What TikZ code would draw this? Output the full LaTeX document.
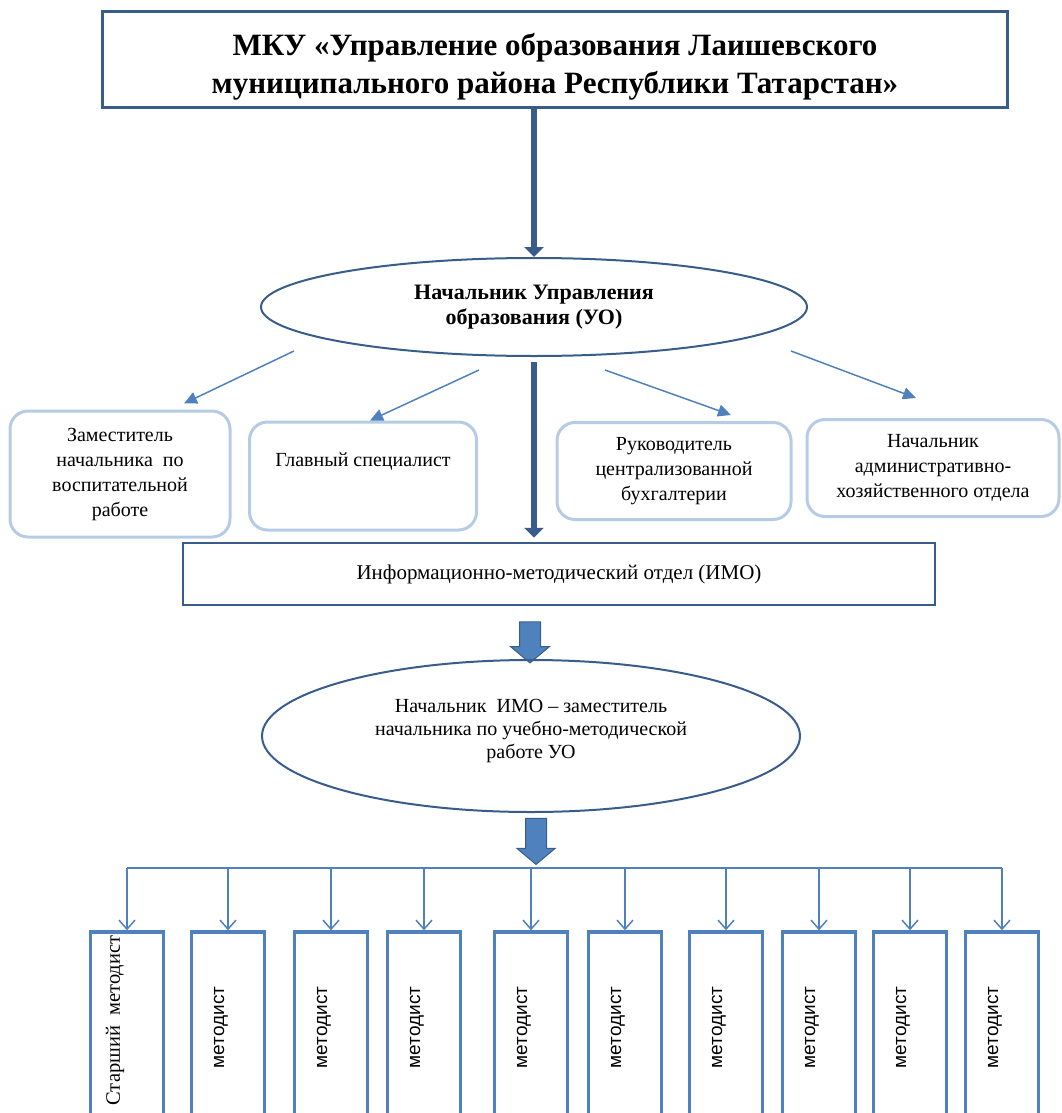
\documentclass[tikz,border=0pt]{standalone}
\usepackage{fontspec}
\setmainfont{Liberation Serif}
\newfontfamily\sansfont{Liberation Sans}
\usetikzlibrary{shapes.geometric, shapes.arrows, arrows.meta, positioning, calc}
\definecolor{darkblue}{RGB}{56,93,138}
\definecolor{midblue}{RGB}{79,129,189}
\definecolor{softblue}{RGB}{182,203,228}

\begin{document}
\begin{tikzpicture}[
  x=1pt, y=-1pt,
  topbox/.style={
    rectangle, draw=darkblue, line width=3pt, fill=white,
    minimum width=905pt, minimum height=96pt
  },
  toptext/.style={align=center, font=\fontsize{31}{38}\selectfont\bfseries},
  chiefoval/.style={
    ellipse, draw=darkblue, line width=2pt, inner sep=0pt,
    minimum width=546pt, minimum height=98pt,
    align=center, font=\fontsize{22}{25}\selectfont\bfseries
  },
  deptbox/.style={
    rectangle, rounded corners=18pt, draw=softblue, line width=3pt,
    align=center, font=\fontsize{20}{25}\selectfont
  },
  imobox/.style={
    rectangle, draw=darkblue, line width=2.5pt,
    minimum width=752pt, minimum height=62pt,
    font=\fontsize{21}{25}\selectfont
  },
  headoval/.style={
    ellipse, draw=darkblue, line width=2pt, inner sep=0pt,
    minimum width=538pt, minimum height=152pt
  },
  headtext/.style={align=center, font=\fontsize{20}{23}\selectfont},
  methbox/.style={
    rectangle, draw=midblue, line width=3.5pt,
    minimum width=73pt, minimum height=195pt
  },
  methtext/.style={rotate=90, font=\sansfont\fontsize{19}{22}\selectfont},
  bigarrow/.style={draw=darkblue, line width=6pt, -{Triangle[length=10pt,width=19pt]}},
  thinarrow/.style={draw=midblue, line width=1.5pt, -{Triangle[length=13pt,width=12pt]}},
  droparrow/.style={draw=midblue, line width=1.5pt, -{Straight Barb[length=9pt,width=16pt]}},
  blockarrow/.style={
    single arrow, draw=darkblue, fill=midblue, line width=1pt,
    rotate=-90, inner xsep=0pt, inner ysep=10pt, single arrow head indent=0pt,
    single arrow tip angle=100
  }
]
\useasboundingbox (0,0) rectangle (1062,1113);
\clip (0,0) rectangle (1062,1113);

% ---- Top: the administration ----
\node[topbox] (mku) at (555,60) {};
\node[toptext] (mkutext) at ($(mku.center)+(0,7)$) {МКУ «Управление образования Лаишевского\\муниципального района Республики Татарстан»};
\node[chiefoval] (chief) at (534,307) {Начальник Управления\\образования (УО)};
\draw[bigarrow] (mku.south -| chief.north) -- (chief.north);

% ---- Departments under the chief ----
\node[deptbox, minimum width=220pt, minimum height=126pt] (zam) at (120,474) {Заместитель\\начальника\enspace по\\воспитательной\\работе};
\node[deptbox, minimum width=227pt, minimum height=108pt] (glav) at (363,476) {Главный специалист\\\strut};
\node[deptbox, minimum width=234pt, minimum height=97pt] (buh) at (674,471) {Руководитель\\централизованной\\бухгалтерии};
\node[deptbox, minimum width=252pt, minimum height=97pt] (ahch) at (933,468) {Начальник\\административно-\\хозяйственного отдела};

\draw[thinarrow] ($(chief.south)+(-240,-6)$) -- ($(zam.north)+(64,-6)$);
\draw[thinarrow] ($(chief.south)+(-55,13)$) -- ($(glav.north)+(7,0)$);
\draw[thinarrow] ($(chief.south)+(71,13)$) -- ($(buh.north)+(57,-6)$);
\draw[thinarrow] ($(chief.south)+(257,-6)$) -- ($(ahch.north)+(-17,-20)$);

% ---- IMO and its head ----
\node[imobox] (imo) at (559,574) {Информационно-методический отдел (ИМО)};
\draw[bigarrow, shorten <=5pt, shorten >=4pt] (chief.south) -- (chief.south |- imo.north);

\node[blockarrow, minimum height=41pt, minimum width=38pt, single arrow head extend=9pt] (ba1) at (530,638) {};
\node[headoval] (imohead) at (531,736) {};
\node[headtext] (imohtext) at ($(imohead.center)+(0,-5)$) {Начальник\enspace ИМО -- заместитель\\начальника по учебно-методической\\работе УО};
\node[blockarrow, minimum height=46pt, minimum width=37pt, single arrow head extend=8.5pt] (ba2) at (536,837) {};

% ---- Methodists ----
\node[methbox] (m1) at (127,1029.5) {};
\node[methtext, font=\fontsize{20.5}{24}\selectfont] (t1) at ($(m1.center)+(-12,-9)$) {Старший\enspace методист};
\foreach \i/\x in {2/228,3/331,4/424,5/531,6/625,7/726,8/819,9/910,10/1002}{
  \node[methbox] (m\i) at (\x,1029.5) {};
  \node[methtext] (t\i) at ($(m\i.center)+(-7,-2)$) {методист};
}

\coordinate (bus) at (0,868);
\draw[draw=midblue, line width=1.5pt] (m1.north |- bus) -- (m10.north |- bus);
\foreach \i in {1,...,10}{
  \draw[droparrow] (m\i.north |- bus) -- (m\i.north);
}

\end{tikzpicture}
\end{document}
